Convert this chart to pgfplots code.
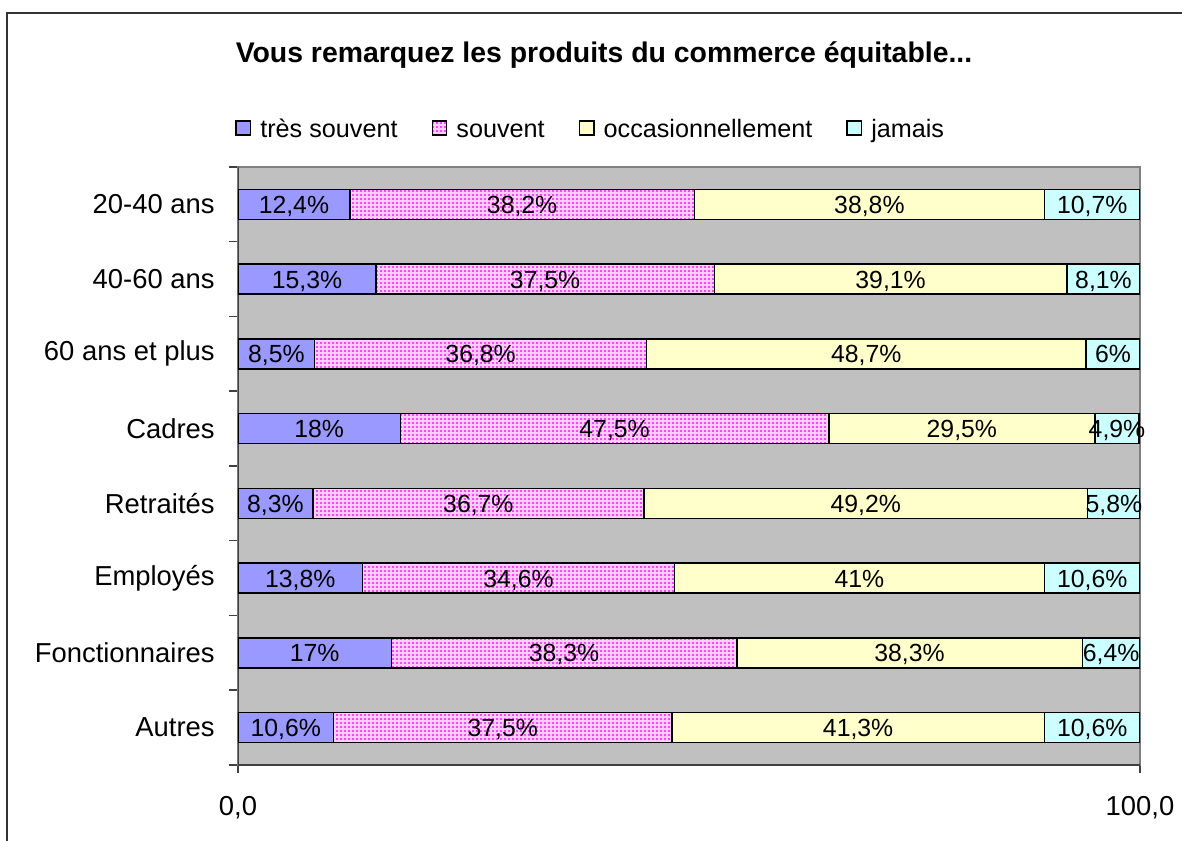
\documentclass[border=0pt]{standalone}
\usepackage{pgfplots}
\pgfplotsset{compat=1.18}
\usepackage{pgfplotstable}
\usepackage{fontspec}
\setmainfont{Liberation Sans}
\usetikzlibrary{patterns}
\definecolor{c1}{HTML}{9999FF}
\definecolor{c2base}{HTML}{FFCCFF}
\definecolor{c2dot}{HTML}{FF44FF}
\definecolor{c3}{HTML}{FFFFCC}
\definecolor{c4}{HTML}{CCFFFF}
\definecolor{plotbg}{HTML}{C0C0C0}
\pgfdeclarepatternformonly{mydots}{\pgfpoint{-0.1pt}{-0.1pt}}{\pgfpoint{2.1pt}{2.1pt}}{\pgfpoint{2pt}{2pt}}{\pgfpathrectangle{\pgfpointorigin}{\pgfpoint{1pt}{1pt}}\pgfusepath{fill}}
\pgfplotsset{mylegend/.style={legend image code/.code={\draw[##1] (0pt,-3.6pt) rectangle (7.2pt,3.6pt);}}}
% d = bar length of "jamais" (row 20-40 ans shortened by 0.1 so the stack ends at 100), dl = its label
\pgfplotstableread{
y a b c d dl
7 12.4 38.2 38.8 10.6 10.7
6 15.3 37.5 39.1 8.1 8.1
5 8.5 36.8 48.7 6 6
4 18 47.5 29.5 4.9 4.9
3 8.3 36.7 49.2 5.8 5.8
2 13.8 34.6 41 10.6 10.6
1 17 38.3 38.3 6.4 6.4
0 10.6 37.5 41.3 10.6 10.6
}\data
\begin{document}
\begin{tikzpicture}
\useasboundingbox (0,0) rectangle (591pt,420pt);
\draw[line width=1pt, black!80] (3.5pt,413.5pt) rectangle (600pt,-10pt);
\node[font=\bfseries\fontsize{14.2}{17}\selectfont] at (302pt,392.5pt) {Vous remarquez les produits du commerce équitable...};
\begin{axis}[
  at={(119pt,37.5pt)}, anchor=south west, scale only axis,
  width=451pt, height=299pt,
  xbar stacked, bar width=0.4,
  xmin=0, xmax=100, ymin=-0.5, ymax=7.5,
  axis background/.style={fill=plotbg},
  axis line style={draw=black!50, line width=0.75pt},
  xtick={0,100}, xticklabels={{0,0},{100,0}},
  ytick={0,...,7},
  yticklabels={Autres,Fonctionnaires,Employés,Retraités,Cadres,60 ans et plus,40-60 ans,20-40 ans},
  minor ytick={-0.5,0.5,...,7.5},
  xtick pos=lower, ytick pos=left,
  tick align=outside,
  major tick length=4pt, minor tick length=4.5pt,
  every major y tick/.append style={draw=none},
  tick style={black!75, line width=0.75pt},
  yticklabel style={font=\fontsize{13.7}{16}\selectfont, inner sep=0pt, xshift=-7.5pt},
  xticklabel style={font=\fontsize{13.7}{16}\selectfont, inner sep=0pt, yshift=-11.5pt},
  point meta=explicit,
  nodes near coords={\pgfmathprintnumber[fixed,precision=1,use comma,assume math mode=true]{\pgfplotspointmeta}\%},
  every node near coord/.append style={font=\fontsize{12.4}{14}\selectfont, black, anchor=base, inner sep=0pt, yshift=-4.5pt},
  legend columns=4,
  legend style={at={(-0.0033,1.0652)}, anchor=west, draw=none, fill=none, inner sep=0pt,
    font=\fontsize{12.6}{15}\selectfont, column sep=2.5pt,
    /tikz/every even column/.append style={column sep=15pt}},
]
\addplot[fill=c1, draw=black, line width=0.75pt, mylegend] table[x=a,y=y,meta=a]{\data};
\addplot[fill=c2base, draw=black, line width=0.75pt, postaction={pattern=mydots, pattern color=c2dot}, mylegend] table[x=b,y=y,meta=b]{\data};
\addplot[fill=c3, draw=black, line width=0.75pt, mylegend] table[x=c,y=y,meta=c]{\data};
\addplot[fill=c4, draw=black, line width=0.75pt, mylegend] table[x=d,y=y,meta=dl]{\data};
\legend{\strut très souvent,\strut souvent,\strut occasionnellement,\strut jamais}
\draw[black!75, line width=0.75pt] (rel axis cs:0,1) -- (rel axis cs:0,0) -- (rel axis cs:1,0);
\end{axis}
\end{tikzpicture}
\end{document}
